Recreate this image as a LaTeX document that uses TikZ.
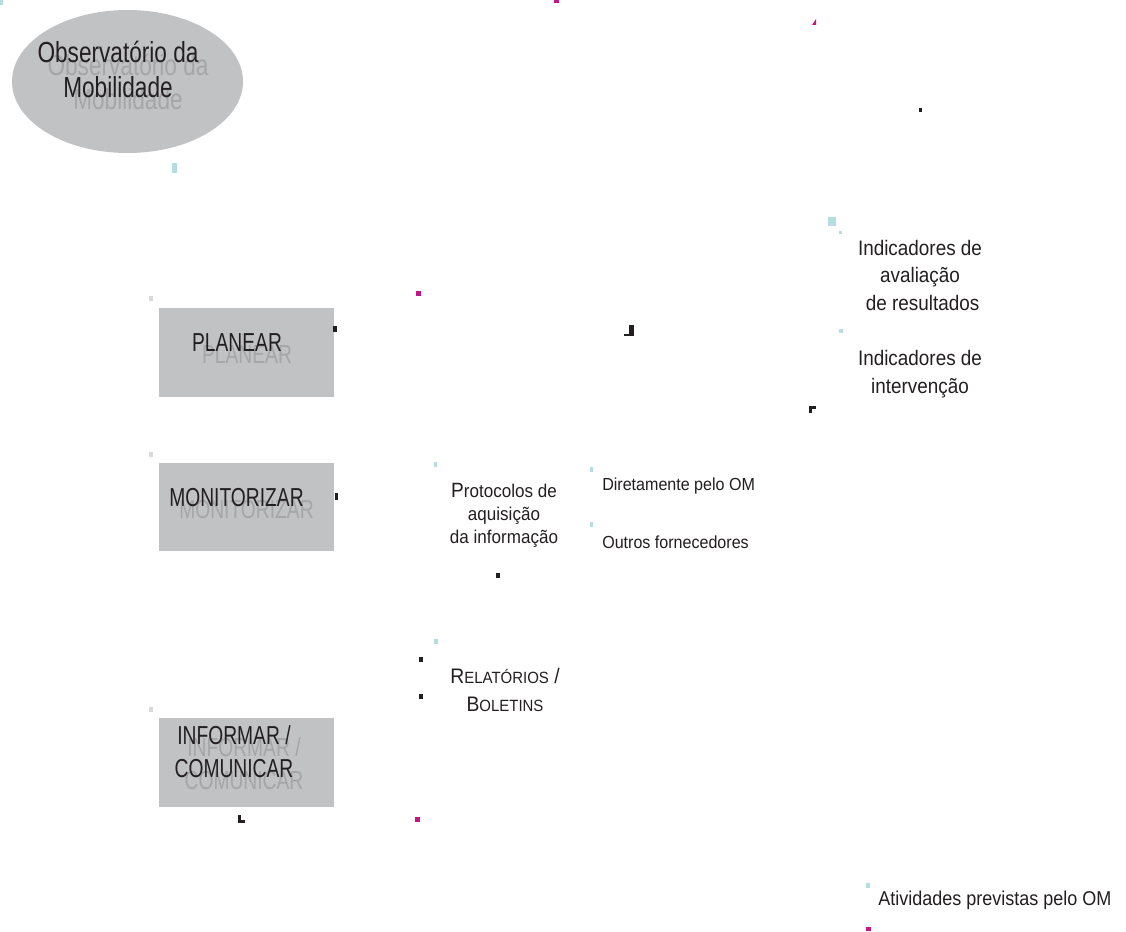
\documentclass[tikz,border=0pt]{standalone}
\usetikzlibrary{shapes.geometric}
\usepackage{fontspec}
\setmainfont{Liberation Sans}
\newfontfamily\fA{Liberation Sans}[FakeStretch=0.78]
\newfontfamily\fB{Liberation Sans}[FakeStretch=0.74]
\newfontfamily\fC{Liberation Sans}[FakeStretch=0.90]
\newfontfamily\fD{Liberation Sans}[FakeStretch=0.92]
\definecolor{boxgray}{HTML}{C1C2C4}
\definecolor{shade}{HTML}{A5A6A8}
\definecolor{ink}{HTML}{231F20}
\definecolor{mcyan}{HTML}{B5DEE2}
\definecolor{mmag}{HTML}{C4168C}
\definecolor{mgray}{HTML}{D9D9DA}
\tikzset{
  graybox/.style={rectangle, fill=boxgray, draw=none, inner sep=0pt, anchor=north west},
  lbl/.style={inner sep=0pt, text=ink, anchor=base, align=center},
  lblw/.style={inner sep=0pt, text=ink, anchor=base west},
  shadowlbl/.style={inner sep=0pt, text=shade, anchor=base, align=center},
  bigfont/.style={font=\fA\fontsize{21.75pt}{25.5pt}\selectfont},
  boxfont/.style={font=\fB\fontsize{19.5pt}{24.75pt}\selectfont},
  indfont/.style={font=\fC\fontsize{15.75pt}{20.6pt}\selectfont},
  atvfont/.style={font=\fC\fontsize{15pt}{18pt}\selectfont},
  smallfont/.style={font=\fD\fontsize{13.1pt}{16pt}\selectfont},
  protfont/.style={font=\fD\fontsize{13.9pt}{16.9pt}\selectfont},
  relfont/.style={font=\fD\fontsize{15.75pt}{21pt}\selectfont},
}
\begin{document}
\begin{tikzpicture}[x=0.75pt,y=-0.75pt]
\useasboundingbox (0,0) rectangle (1126,931);
\fill[white] (0,0) rectangle (1126,931);

% main shapes
\node (obs) [ellipse, fill=boxgray, inner sep=0pt, minimum width=173.25pt, minimum height=107.25pt] at (127.5,81.5) {};
\node (plan) [graybox, minimum width=131.25pt, minimum height=66.75pt] at (159,308) {};
\node (mon) [graybox, minimum width=131.25pt, minimum height=66pt] at (159,463) {};
\node (inf) [graybox, minimum width=131.25pt, minimum height=66.75pt] at (159,718) {};

% shadow texts (last-line baselines)
\node (obsS) [shadowlbl, bigfont] at (128,109) {Observatório da\\Mobilidade};
\node (planS) [shadowlbl, boxfont] at (247,363) {PLANEAR};
\node (monS) [shadowlbl, boxfont] at (246.5,518) {MONITORIZAR};
\node (infS) [shadowlbl, boxfont] at (244,789) {INFORMAR /\\COMUNICAR};

% main texts (last-line baselines)
\node (obsT) [lbl, bigfont] at (118,97) {Observatório da\\Mobilidade};
\node (planT) [lbl, boxfont] at (237,351) {PLANEAR};
\node (monT) [lbl, boxfont] at (236.5,506) {MONITORIZAR};
\node (infT) [lbl, boxfont] at (234,777) {INFORMAR /\\COMUNICAR};

\node (prot) [lbl, protfont] at (504,543) {{\fontsize{15.5pt}{16.9pt}\selectfont P}rotocolos de\\aquisição\\da informação};
\node (dir) [lblw, smallfont] at (602,490) {Diretamente pelo OM};
\node (out) [lblw, smallfont] at (602,548) {Outros fornecedores};
\node (rel) [lbl, relfont] at (505,711) {R{\fontsize{12.2pt}{21pt}\selectfont ELATÓRIOS} /\\B{\fontsize{12.2pt}{21pt}\selectfont OLETINS}};
\node (ind1) [lbl, indfont] at (920,310) {Indicadores de\\avaliação\\\ de resultados};
\node (ind2) [lbl, indfont] at (920,393) {Indicadores de\\intervenção};
\node (atv) [lblw, atvfont] at (878,905) {Atividades previstas pelo OM};

% cyan marks
\fill[mcyan] (0,0) rectangle (3,5);
\fill[mcyan] (172,163) rectangle (177,173);
\fill[mcyan] (434,462) rectangle (437,467);
\fill[mcyan] (590,467) rectangle (593,472);
\fill[mcyan] (590,522) rectangle (593,527);
\fill[mcyan] (434,639) rectangle (438,644);
\fill[mcyan] (828,217) rectangle (836,226);
\fill[mcyan] (839,231) rectangle (842,234);
\fill[mcyan] (839,329) rectangle (843,333);
\fill[mcyan] (866,883) rectangle (870,888);
% gray marks
\fill[mgray] (149,296) rectangle (153,301);
\fill[mgray] (149,452) rectangle (153,457);
\fill[mgray] (149,707) rectangle (153,712);
% magenta marks
\fill[mmag] (554,0) rectangle (559,3);
\fill[mmag] (416,291) rectangle (421,296);
\fill[mmag] (415,817) rectangle (420,822);
\fill[mmag] (866,927) rectangle (871,931);
\fill[mmag] (812,25) -- (816,19) -- (816,25) -- cycle;
% black marks
\fill[ink] (333,326) rectangle (337,332);
\fill[ink] (335,493) rectangle (338,500);
\fill[ink] (496,573) rectangle (500,578);
\fill[ink] (419,657) rectangle (423,662);
\fill[ink] (419,694) rectangle (423,699);
\fill[ink] (238,815) rectangle (241,823);
\fill[ink] (238,820) rectangle (245,823);
\fill[ink] (919,108) rectangle (922,112);
\fill[ink] (629,325) rectangle (634,335);
\fill[ink] (624,334) rectangle (634,336);
\fill[ink] (809,406) rectangle (816,409);
\fill[ink] (809,406) rectangle (812,413);
\end{tikzpicture}
\end{document}
